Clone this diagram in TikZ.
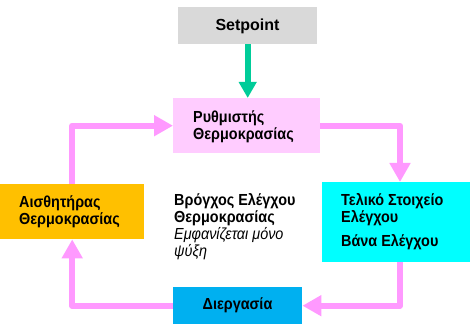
\documentclass[tikz,border=0pt]{standalone}
\usepackage{fontspec}
\setmainfont{Liberation Sans}
\newfontfamily\greekfont[FakeStretch=0.9]{Liberation Sans}
\usetikzlibrary{arrows.meta}
\definecolor{setgray}{HTML}{D9D9D9}
\definecolor{rythpink}{HTML}{FFCCFF}
\definecolor{loopink}{HTML}{FF99FF}
\definecolor{aistorange}{HTML}{FFC000}
\definecolor{elemcyan}{HTML}{00FFFF}
\definecolor{diergblue}{HTML}{00B0F0}
\definecolor{setgreen}{HTML}{00CC99}
\newcommand\myfs{\fontsize{16}{17}\selectfont}
\begin{document}
\begin{tikzpicture}[x=1pt,y=-1pt,
  box/.style={rectangle, draw=none, inner sep=0pt, anchor=north west},
  txt/.style={inner sep=0pt, anchor=base west, align=left, font=\myfs\bfseries},
  grtxt/.style={txt, font=\myfs\greekfont\bfseries},
  looparrow/.style={draw=loopink, line width=6pt, line join=round,
    -{Triangle[width=20pt,length=19pt]}},
  greenarrow/.style={draw=setgreen, line width=6pt,
    -{Triangle[width=17pt,length=16pt]}}]
\useasboundingbox (0,0) rectangle (470,328);
\fill[white] (0,0) rectangle (470,328);

\node[box, fill=setgray, minimum width=139pt, minimum height=37pt] (set) at (178,7) {};
\node[box, fill=rythpink, minimum width=147pt, minimum height=55pt] (ryth) at (173,98) {};
\node[box, fill=aistorange, minimum width=144pt, minimum height=55pt] (aist) at (0,184) {};
\node[box, fill=elemcyan, minimum width=150pt, minimum height=80pt] (elem) at (322,182) {};
\node[box, fill=diergblue, minimum width=129pt, minimum height=37pt] (dierg) at (173,287) {};

\coordinate (elemin) at (400,182);
\coordinate (elemout) at (400,262);

% multi-line text nodes: the base anchor sits on the last line
\node[txt, anchor=base] (settxt) at (247.5,31) {Setpoint};
\node[grtxt] (rythtxt) at (193,140) {Ρυθμιστής\\Θερμοκρασίας};
\node[grtxt] (aisttxt) at (19,225) {Αισθητήρας\\Θερμοκρασίας};
\node[grtxt] (elemtxt) at (341,247) {Τελικό Στοιχείο\\Ελέγχου\\[7pt]Βάνα Ελέγχου};
\node[grtxt] (looptxt) at (174,256) {Βρόγχος Ελέγχου\\Θερμοκρασίας\\{\mdseries\itshape Εμφανίζεται μόνο}\\{\mdseries\itshape ψύξη}};
\node[grtxt, anchor=base] (diergtxt) at (237.5,309) {Διεργασία};

\draw[greenarrow] (set.south) -- (set.south |- ryth.north);
\draw[looparrow] (aist.north) |- (ryth.west);
\draw[looparrow] (ryth.east) -| (elemin);
\draw[looparrow] (elemout) |- (dierg.east);
\draw[looparrow] (dierg.west) -| (aist.south);
\end{tikzpicture}
\end{document}
